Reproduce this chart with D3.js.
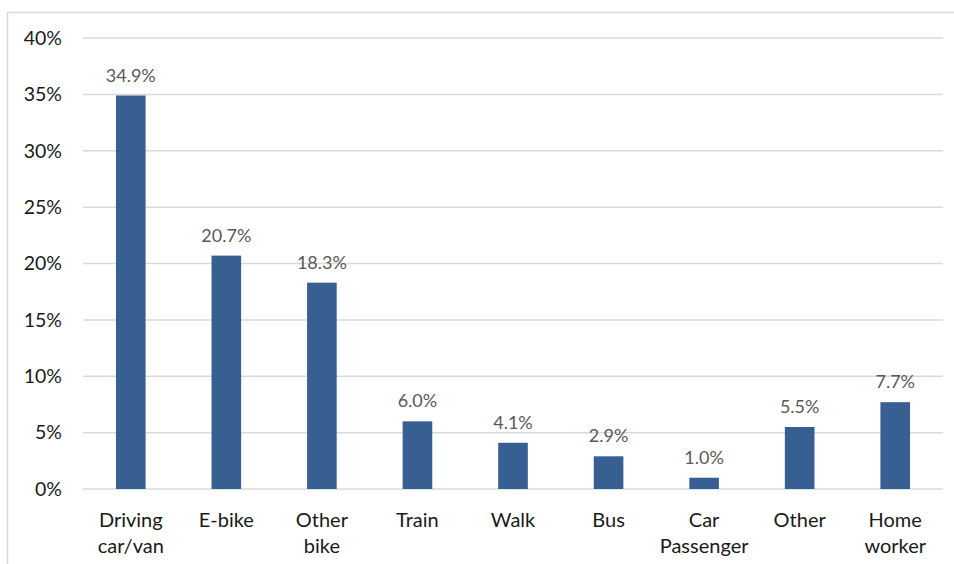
<!DOCTYPE html>
<html>
<head>
<meta charset="utf-8">
<script src="https://cdn.jsdelivr.net/npm/d3@7"></script>
<style>
  body { margin: 0; background: #fff; }
  text { font-family: Lato, "Open Sans", sans-serif; }
</style>
</head>
<body>
<div id="vis-container"></div>
<script>
// chart data
const categories = [["Driving", "car/van"], ["E-bike"], ["Other", "bike"], ["Train"], ["Walk"],
                    ["Bus"], ["Car", "Passenger"], ["Other"], ["Home", "worker"]];
const values = [34.9, 20.7, 18.3, 6.0, 4.1, 2.9, 1.0, 5.5, 7.7];
const yTicks = [0, 5, 10, 15, 20, 25, 30, 35, 40];

const width = 954;
const height = 564;

const svg = d3.select("#vis-container")
  .append("svg")
    .attr("width", width)
    .attr("height", height);

// chart border (top + left visible)
svg.append("path")
  .attr("d", "M7.5,564 L7.5,12.5 L954,12.5")
  .attr("fill", "none")
  .attr("stroke", "#d9d9d9")
  .attr("stroke-width", 1.5);

const x = d3.scaleBand()
  .domain(d3.range(categories.length))
  .range([83, 943])
  .paddingInner(0.69)
  .paddingOuter(0.345);

const y = d3.scaleLinear()
  .domain([0, 40])
  .range([489, 38]);

// gridlines
svg.append("g")
  .selectAll("line")
  .data(yTicks)
  .enter()
    .append("line")
    .attr("x1", 83)
    .attr("x2", 943)
    .attr("y1", d => y(d))
    .attr("y2", d => y(d))
    .attr("stroke", "#d9d9d9")
    .attr("stroke-width", 1.5);

// y axis labels
const yAxis = svg.append("g")
  .attr("transform", "translate(62,0)")
  .call(d3.axisLeft(y).tickValues(yTicks).tickFormat(d => d + "%").tickSize(0).tickPadding(0));
yAxis.select(".domain").remove();
yAxis.selectAll("text")
  .attr("font-family", "Lato, sans-serif")
  .attr("font-size", 19.5)
  .attr("fill", "#1a1a1a");

// bars
svg.append("g")
  .selectAll("rect")
  .data(values)
  .enter()
    .append("rect")
    .attr("x", (d, i) => x(i))
    .attr("y", d => y(d))
    .attr("width", x.bandwidth())
    .attr("height", d => y(0) - y(d))
    .attr("fill", "#385f92");

// data labels
svg.append("g")
  .selectAll("text")
  .data(values)
  .enter()
    .append("text")
    .attr("x", (d, i) => x(i) + x.bandwidth() / 2)
    .attr("y", d => y(d) - 14)
    .attr("text-anchor", "middle")
    .attr("font-size", 18)
    .attr("fill", "#595959")
    .text(d => d.toFixed(1) + "%");

// category labels
const catG = svg.append("g")
  .selectAll("text")
  .data(categories)
  .enter()
    .append("text")
    .attr("text-anchor", "middle")
    .attr("font-size", 20)
    .attr("fill", "#1a1a1a");

catG.selectAll("tspan")
  .data((d, i) => d.map(t => ({ t, i })))
  .enter()
    .append("tspan")
    .attr("x", d => x(d.i) + x.bandwidth() / 2)
    .attr("y", (d, j) => 527 + j * 26)
    .text(d => d.t);
</script>
</body>
</html>
